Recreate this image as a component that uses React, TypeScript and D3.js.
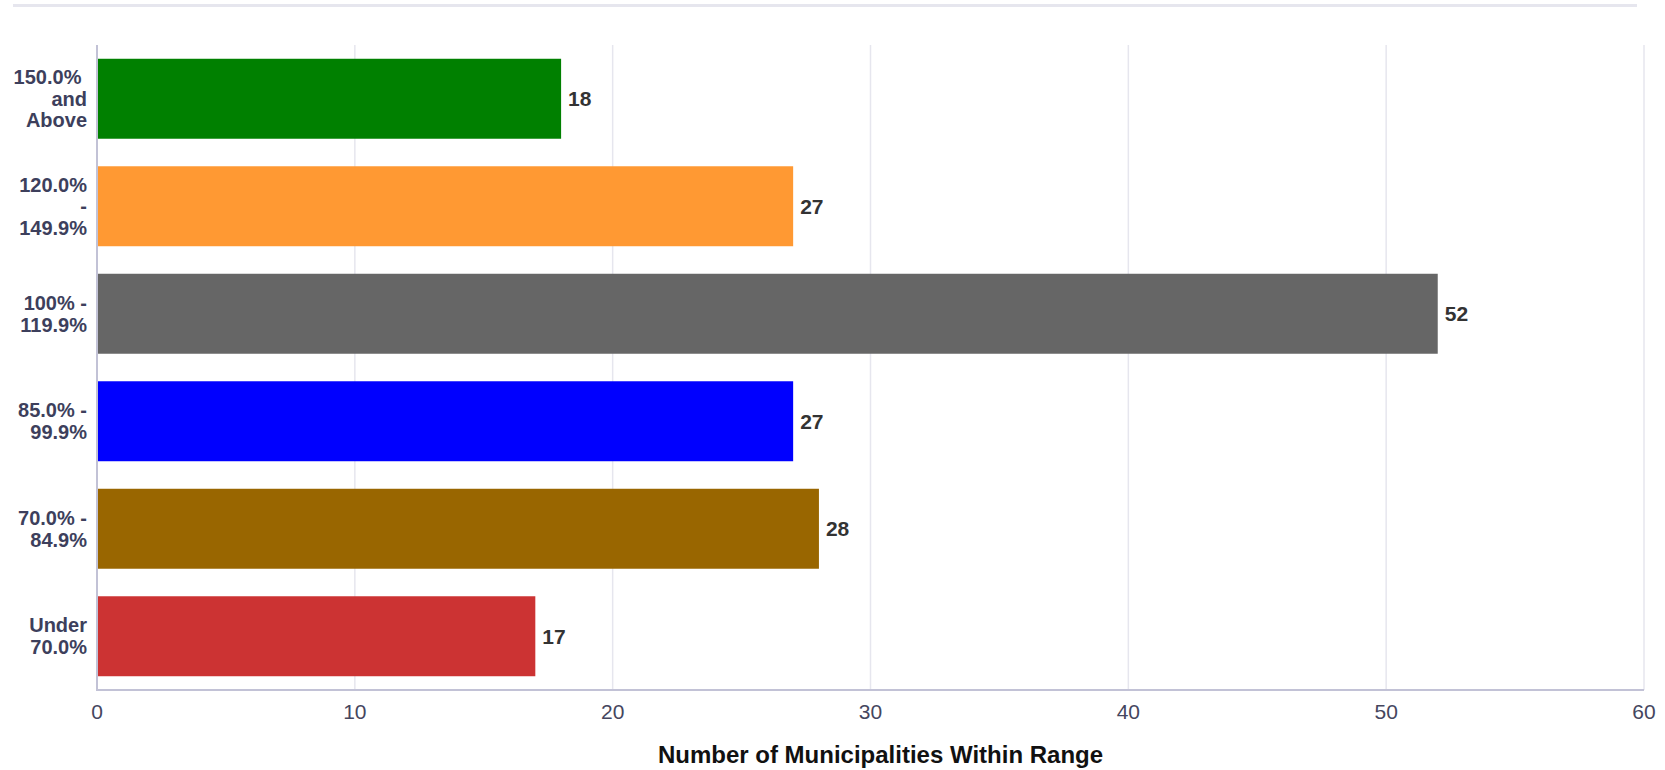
import React from "react";
import * as d3 from "d3";

const categories = [
  "150.0% and Above",
  "120.0% - 149.9%",
  "100% - 119.9%",
  "85.0% - 99.9%",
  "70.0% - 84.9%",
  "Under 70.0%",
];
const categoryLines = [
  ["150.0%\u00a0", "and", "Above"],
  ["120.0%", "-", "149.9%"],
  ["100% -", "119.9%"],
  ["85.0% -", "99.9%"],
  ["70.0% -", "84.9%"],
  ["Under", "70.0%"],
];
const counts = [18, 27, 52, 27, 28, 17];
const barColors = ["#008000", "#ff9933", "#666666", "#0000ff", "#996600", "#cc3333"];
const xTicks = [0, 10, 20, 30, 40, 50, 60];
const xTitle = "Number of Municipalities Within Range";

const W = 1665;
const H = 770;
const plot = { left: 97, right: 1644, top: 45, bottom: 690 };
const FONT = "'Liberation Sans', Arial, Helvetica, sans-serif";

export default function App() {
  const x = d3.scaleLinear().domain([0, 60]).range([plot.left, plot.right]);
  const y = d3
    .scaleBand<string>()
    .domain(categories)
    .range([plot.top, plot.bottom])
    .paddingInner(0.256)
    .paddingOuter(0.128);
  const lineH = 21.7;

  return (
    <svg
      width={W}
      height={H}
      style={{ position: "absolute", left: 0, top: 0, background: "#fff" }}
      fontFamily={FONT}
    >
      {/* header rule */}
      <rect x={13} y={4} width={1624} height={3} fill="#e6e6ee" />

      {/* vertical grid */}
      {xTicks.map((t) => (
        <line
          key={"g" + t}
          x1={x(t)}
          x2={x(t)}
          y1={plot.top}
          y2={plot.bottom}
          stroke="#e6e6ee"
          strokeWidth={1.5}
        />
      ))}

      {/* bars */}
      {categories.map((c, i) => (
        <rect
          key={c}
          x={x(0)}
          y={y(c)}
          width={x(counts[i]) - x(0)}
          height={y.bandwidth()}
          fill={barColors[i]}
        />
      ))}

      {/* value labels */}
      {categories.map((c, i) => (
        <text
          key={"v" + c}
          x={x(counts[i]) + 7}
          y={(y(c) as number) + y.bandwidth() / 2}
          dy="0.35em"
          fontSize={21}
          fontWeight="bold"
          fill="#333333"
        >
          {counts[i]}
        </text>
      ))}

      {/* axes lines */}
      <line x1={plot.left} x2={plot.left} y1={plot.top} y2={plot.bottom + 1} stroke="#c2c2d6" strokeWidth={2} />
      <line x1={plot.left - 1} x2={plot.right} y1={plot.bottom} y2={plot.bottom} stroke="#c2c2d6" strokeWidth={2} />

      {/* category labels */}
      {categories.map((c, i) => {
        const lines = categoryLines[i];
        const cy = (y(c) as number) + y.bandwidth() / 2;
        const y0 = cy - ((lines.length - 1) * lineH) / 2;
        return (
          <text
            key={"c" + c}
            textAnchor="end"
            fontSize={20}
            fontWeight="bold"
            fill="#3d3f5c"
          >
            {lines.map((l, j) => (
              <tspan key={j} x={87} y={y0 + j * lineH} dy="0.35em">
                {l}
              </tspan>
            ))}
          </text>
        );
      })}

      {/* x tick labels */}
      {xTicks.map((t) => (
        <text
          key={"t" + t}
          x={x(t)}
          y={712}
          dy="0.35em"
          textAnchor="middle"
          fontSize={21}
          fill="#45465e"
        >
          {t}
        </text>
      ))}

      {/* x axis title */}
      <text
        x={(plot.left + plot.right) / 2 + 10}
        y={755}
        dy="0.35em"
        textAnchor="middle"
        fontSize={24}
        fontWeight="bold"
        fill="#111111"
      >
        {xTitle}
      </text>
    </svg>
  );
}
